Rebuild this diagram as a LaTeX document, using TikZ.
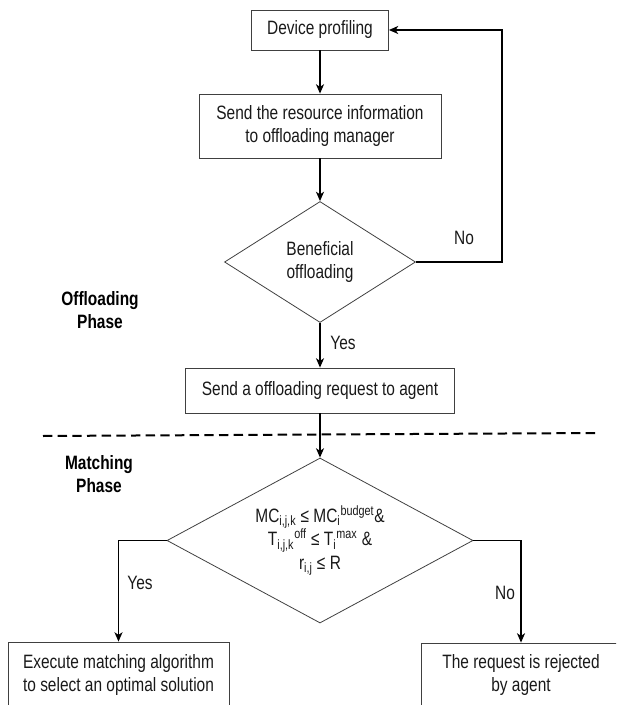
\documentclass[tikz,border=0pt]{standalone}
\usepackage{fontspec}
\setmainfont{Liberation Sans}[FakeStretch=0.8]
\usetikzlibrary{shapes.geometric,arrows.meta}

\begin{document}
\begin{tikzpicture}[x=0.75pt,y=-0.75pt,
  box/.style={draw=black!75,line width=0.6pt,align=center,inner sep=0pt,text=black!90,font=\fontsize{14.5}{17.25}\selectfont},
  decision/.style={diamond,draw=black!75,line width=0.6pt,align=center,inner sep=0pt,text=black!90,font=\fontsize{14.5}{17.25}\selectfont},
  flow/.style={line width=1.4pt,-{Stealth[length=7pt,width=6pt,inset=2pt]}},
  lbl/.style={text=black!90,font=\fontsize{14.5}{17.25}\selectfont},
  phase/.style={align=center,font=\bfseries\fontsize{14.5}{17.25}\selectfont}]
\useasboundingbox (0,0) rectangle (616,705);
\clip (0,0) rectangle (616,705);

% offloading phase
\node[box,minimum width=102.75pt,minimum height=30pt] (dev) at (320,30) {Device profiling};
\node[box,minimum width=181.5pt,minimum height=48pt] (info) at (320,126) {Send the resource information\\to offloading manager};
\node[decision,minimum width=143.25pt,minimum height=90.75pt,aspect=1.58] (ben) at (320,262) {Beneficial\\offloading};
\node[box,minimum width=201.75pt,minimum height=33.75pt] (req) at (320,390.5) {Send a offloading request to agent};
\node[phase] (offph) at (100,310.5) {Offloading\\Phase};

\draw[dash pattern=on 7pt off 4pt,line width=1.5pt] (43,436) -- (597,433);

% matching phase
\node[phase] (matph) at (99,474.5) {Matching\\Phase};
\node[decision,minimum width=229.5pt,minimum height=123.75pt,aspect=1.85,font=\fontsize{14.5}{17.5}\selectfont] (match) at (320,540.5)
  {MC\textsubscript{i,j,k} ≤ MC\textsubscript{i}\textsuperscript{budget}\&\\
   T\textsubscript{i,j,k}\textsuperscript{off} ≤ T\textsubscript{i}\textsuperscript{max} \&\\
   r\textsubscript{i,j} ≤ R};
\node[box,minimum width=165.75pt,minimum height=48.75pt] (exe) at (118.5,674.5) {Execute matching algorithm\\to select an optimal solution};
\node[box,minimum width=150pt,minimum height=48pt] (rej) at (521,675) {The request is rejected\\by agent};

\coordinate (loop) at (502,262);
\draw[flow] (dev) -- (info);
\draw[flow] (info) -- (ben);
\draw[flow] (ben) -- (req);
\draw[flow] (ben.east) -- (loop) |- (dev.east);
\draw[flow] (req) -- (match);
\draw[flow] (match.west) -| (exe.north);
\draw[flow] (match.east) -| (rej.north);

\node[lbl] (yes1) at (343,343) {Yes};
\node[lbl] (no1) at (464,238) {No};
\node[lbl] (yes2) at (140,583) {Yes};
\node[lbl] (no2) at (505,593) {No};
\end{tikzpicture}
\end{document}
